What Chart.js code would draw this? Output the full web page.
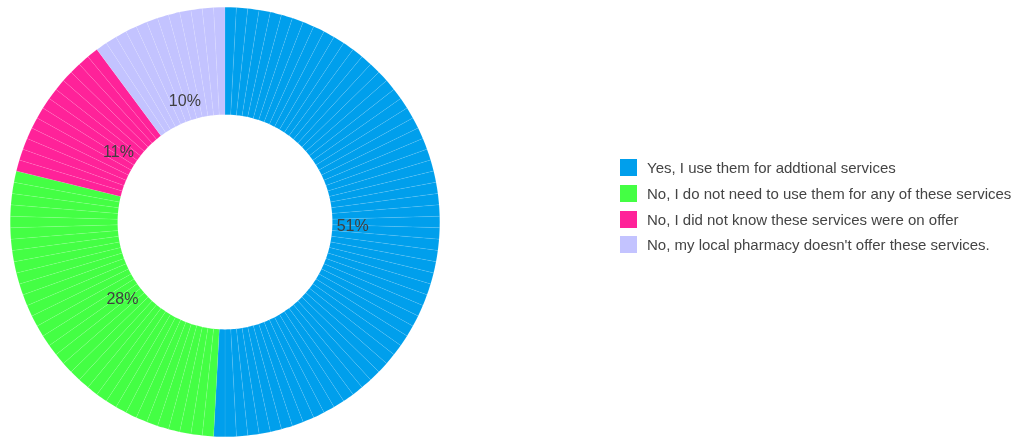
<!DOCTYPE html>
<html>
<head>
<meta charset="utf-8">
<script src="https://cdn.jsdelivr.net/npm/chart.js@4"></script>
<style>
  html, body { margin: 0; padding: 0; background: #fff; }
  #wrap { position: relative; width: 1019px; height: 438px; }
  #legend { position: absolute; left: 620px; top: 155px; font-family: "Liberation Sans", Arial, sans-serif; font-size: 15px; color: #444; }
  #legend .row { height: 25.7px; display: flex; align-items: center; }
  #legend .box { width: 17px; height: 17px; margin-right: 10px; }
  #legend .txt { line-height: 17px; white-space: nowrap; }
</style>
</head>
<body>
<div id="wrap">
  <canvas id="myChart" width="1019" height="438"></canvas>
  <div id="legend"></div>
</div>
<script>
// survey answers and how many people picked each
const answers = [
    'Yes, I use them for addtional services',
    'No, I do not need to use them for any of these services',
    'No, I did not know these services were on offer',
    "No, my local pharmacy doesn't offer these services."
];
const responses = [60, 33, 13, 12];
const colours = ['#009fec', '#44ff44', '#ff2299', '#c3c3ff'];

const total = responses.reduce((a, b) => a + b, 0);

// one thin slice per response, grouped by answer
const sliceData = [];
const sliceColours = [];
const sliceGroup = [];
responses.forEach((n, i) => {
    for (let k = 0; k < n; k++) {
        sliceData.push(1);
        sliceColours.push(colours[i]);
        sliceGroup.push(i);
    }
});

// percent label inside each answer's group of slices
const percentLabels = {
    id: 'percentLabels',
    afterDatasetsDraw(chart) {
        const arcs = chart.getDatasetMeta(0).data;
        const ctx = chart.ctx;
        ctx.save();
        ctx.font = '16px "Liberation Sans", Arial, sans-serif';
        ctx.fillStyle = '#404040';
        ctx.textAlign = 'center';
        ctx.textBaseline = 'middle';
        let idx = 0;
        responses.forEach((n) => {
            const first = arcs[idx];
            const last = arcs[idx + n - 1];
            idx += n;
            const mid = (first.startAngle + last.endAngle) / 2;
            const r = first.innerRadius + (first.outerRadius - first.innerRadius) * 0.19;
            const pct = Math.round(n / total * 100) + '%';
            ctx.fillText(pct, first.x + Math.cos(mid) * r, first.y + Math.sin(mid) * r + 1);
        });
        ctx.restore();
    }
};

let ctx = document.getElementById('myChart').getContext('2d');
let chartJS = new Chart(ctx, {
    type: 'doughnut',
    data: {
        labels: sliceGroup.map(g => answers[g]),
        datasets: [{
            data: sliceData,
            backgroundColor: sliceColours,
            borderWidth: 0.5,
            borderColor: 'rgba(255,255,255,0.15)'
        }]
    },
    options: {
        responsive: false,
        animation: false,
        cutout: '50%',
        layout: { padding: { left: 0, right: 569, top: 7, bottom: 1 } },
        plugins: {
            legend: { display: false },
            tooltip: { enabled: false }
        }
    },
    plugins: [percentLabels]
});

// legend on the right
const legend = document.getElementById('legend');
answers.forEach((a, i) => {
    legend.insertAdjacentHTML('beforeend',
        `<div class="row"><div class="box" style="background:${colours[i]}"></div><div class="txt">${a}</div></div>`);
});
</script>
</body>
</html>
